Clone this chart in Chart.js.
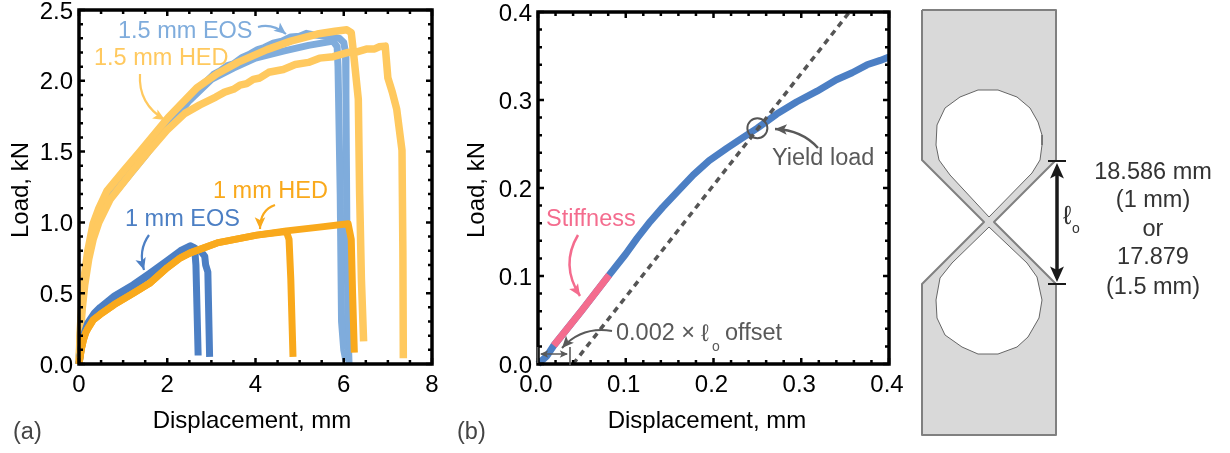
<!DOCTYPE html>
<html>
<head>
<meta charset="utf-8">
<script src="https://cdn.jsdelivr.net/npm/chart.js@4/dist/chart.umd.min.js"></script>
<style>
  html, body { margin: 0; background: #fff; }
  canvas { position: absolute; top: 0; }
</style>
</head>
<body>
<canvas id="chartA" width="445" height="453" style="left:0"></canvas>
<canvas id="chartB" width="465" height="453" style="left:445px"></canvas>
<canvas id="chartC" width="320" height="453" style="left:910px"></canvas>
<script>
// panel (a) load-displacement curves, [displacement mm, load kN]
const eos15a = [[0,0],[0.04,0.3],[0.1,0.55],[0.2,0.78],[0.3,0.92],[0.45,1.05],[0.63,1.17],[1,1.32],[1.5,1.5],[2,1.7],[2.5,1.89],[2.7,1.95],[2.9,2.0],[3.05,2.045],[3.2,2.07],[3.35,2.105],[3.5,2.12],[3.7,2.165],[3.88,2.19],[4.05,2.22],[4.2,2.235],[4.4,2.265],[4.6,2.28],[4.8,2.31],[5,2.315],[5.15,2.335],[5.3,2.325],[5.76,2.31],[5.9,2.3],[6.0,2.27],[6.04,2.2],[6.05,1.9],[6.07,1.0],[6.1,0.2],[6.12,0]];
const eos15b = [[0,0],[0.04,0.28],[0.1,0.52],[0.2,0.75],[0.3,0.89],[0.45,1.02],[0.63,1.14],[1,1.28],[1.5,1.47],[2,1.67],[2.5,1.86],[3,2.01],[3.5,2.09],[4,2.16],[4.63,2.21],[5.2,2.25],[5.76,2.28],[5.85,2.24],[5.87,2.1],[5.92,1.2],[5.95,0.3],[6.0,0.1],[6.05,0.02]];
const hed15a = [[0,0],[0.03,0.25],[0.07,0.45],[0.12,0.62],[0.2,0.8],[0.32,0.99],[0.45,1.1],[0.63,1.22],[1,1.36],[1.38,1.5],[2.02,1.74],[2.67,1.95],[3.13,2.05],[3.6,2.13],[4.26,2.22],[4.8,2.28],[5.4,2.33],[5.8,2.35],[6.07,2.36],[6.17,2.34],[6.22,2.2],[6.33,1.87],[6.36,1.2],[6.4,0.6],[6.45,0.16]];
const hed15b = [[0,0],[0.03,0.2],[0.07,0.38],[0.13,0.56],[0.22,0.74],[0.32,0.88],[0.45,1.0],[0.7,1.16],[1.23,1.37],[1.6,1.51],[1.99,1.65],[2.4,1.77],[2.74,1.83],[3.1,1.885],[3.3,1.92],[3.5,1.94],[3.65,1.97],[3.8,1.98],[3.95,2.01],[4.1,2.02],[4.3,2.06],[4.63,2.08],[4.9,2.115],[5.2,2.13],[5.45,2.16],[5.76,2.17],[6.1,2.2],[6.3,2.205],[6.53,2.225],[6.7,2.225],[6.8,2.24],[6.94,2.245],[7,2.02],[7.1,1.92],[7.2,1.8],[7.32,1.51],[7.34,0.8],[7.35,0.04]];
const eos1a = [[0,0],[0.05,0.12],[0.1,0.2],[0.2,0.29],[0.35,0.36],[0.48,0.4],[0.8,0.48],[1.23,0.56],[1.6,0.64],[2,0.73],[2.3,0.8],[2.52,0.835],[2.62,0.82],[2.65,0.7],[2.7,0.06]];
const eos1b = [[0,0],[0.05,0.11],[0.1,0.19],[0.2,0.28],[0.35,0.35],[0.48,0.39],[0.8,0.47],[1.23,0.55],[1.6,0.63],[2,0.72],[2.3,0.79],[2.52,0.83],[2.75,0.8],[2.85,0.76],[2.87,0.7],[2.92,0.65],[2.96,0.05]];
const hed1a = [[0,0],[0.05,0.1],[0.1,0.17],[0.15,0.22],[0.2,0.25],[0.32,0.31],[0.48,0.35],[0.8,0.42],[1.23,0.5],[1.6,0.57],[2,0.68],[2.3,0.75],[2.52,0.785],[3.13,0.855],[4.03,0.91],[4.7,0.935],[4.76,0.88],[4.8,0.6],[4.85,0.05]];
const hed1b = [[0,0],[0.05,0.1],[0.1,0.17],[0.15,0.22],[0.2,0.25],[0.32,0.31],[0.48,0.35],[0.8,0.42],[1.23,0.5],[1.6,0.57],[2,0.68],[2.3,0.75],[2.52,0.785],[3.13,0.855],[4.03,0.91],[4.7,0.94],[5.4,0.965],[6.1,0.99],[6.17,0.88],[6.2,0.5],[6.24,0.08]];

// panel (b)
const yieldCurve = [[0,0],[0.01,0.009],[0.018,0.021],[0.05,0.061],[0.081,0.101],[0.1,0.125],[0.113,0.143],[0.128,0.162],[0.142,0.178],[0.16,0.197],[0.177,0.215],[0.195,0.231],[0.215,0.245],[0.233,0.257],[0.25,0.268],[0.272,0.284],[0.295,0.298],[0.318,0.31],[0.34,0.323],[0.358,0.331],[0.375,0.34],[0.39,0.345],[0.4,0.349]];
const stiffnessPart = [[0.018,0.021],[0.05,0.061],[0.081,0.101]];
const offsetLine = [[0.04,0],[0.355,0.4]];
const yieldPoint = [[0.25,0.268]];

// specimen drawing outline, in drawing units
const plateOutline = [[12,10],[146,10],[146,160],[84,222],[146,284],[146,435],[12,435],[12,284],[74,222],[12,160],[12,10]];
const holeTop = [[68,90],[88,90],[107,97],[120,108],[128,122],[132,135],[132,145],[130,160],[122,173],[79,217],[40,175],[29,160],[26,145],[27,125],[35,108],[50,97],[68,90]];
const holeBottom = [[79,227],[117,263],[127,277],[132,300],[129,318],[118,337],[107,347],[88,354],[68,354],[52,347],[35,335],[27,318],[26,300],[30,278],[42,263],[79,227]];

const xTicksA = [0, 2, 4, 6, 8];
const yTicksA = [0, 0.5, 1, 1.5, 2, 2.5];
const xTicksB = [0, 0.1, 0.2, 0.3, 0.4];
const yTicksB = [0, 0.1, 0.2, 0.3, 0.4];

const FONT = "Liberation Sans, Arial, sans-serif";
const GREY = "#595959";

function toPts(arr) {
  return arr.map(p => ({ x: p[0], y: p[1] }));
}

function curve(arr, color, width) {
  return {
    data: toPts(arr), borderColor: color, borderWidth: width, pointRadius: 0,
    showLine: true, tension: 0, fill: false, clip: false,
    borderJoinStyle: "round", borderCapStyle: "butt"
  };
}

// ticks point inward on all four sides, so they are drawn here
function frameTicks(chart, xMinor, yMinor) {
  const { ctx, chartArea: a, scales: { x, y } } = chart;
  ctx.save();
  ctx.strokeStyle = "#000";
  ctx.lineWidth = 3.5;
  ctx.strokeRect(a.left, a.top, a.right - a.left, a.bottom - a.top);
  ctx.lineWidth = 2.5;
  const xMajor = x.ticks.map(t => t.value);
  const yMajor = y.ticks.map(t => t.value);
  for (const v of xMinor) {
    const len = xMajor.some(m => Math.abs(m - v) < 1e-6) ? 6 : 4;
    const p = x.getPixelForValue(v);
    ctx.beginPath();
    ctx.moveTo(p, a.top); ctx.lineTo(p, a.top + len);
    ctx.moveTo(p, a.bottom); ctx.lineTo(p, a.bottom - len);
    ctx.stroke();
  }
  for (const v of yMinor) {
    const len = yMajor.some(m => Math.abs(m - v) < 1e-6) ? 6 : 4;
    const p = y.getPixelForValue(v);
    ctx.beginPath();
    ctx.moveTo(a.left, p); ctx.lineTo(a.left + len, p);
    ctx.moveTo(a.right, p); ctx.lineTo(a.right - len, p);
    ctx.stroke();
  }
  ctx.restore();
}

function stepList(max, step) {
  const out = [];
  const n = Math.round(max / step);
  for (let i = 0; i <= n; i++) out.push(+(i * step).toFixed(4));
  return out;
}

function arrowHead(ctx, fromX, fromY, toX, toY, size) {
  const ang = Math.atan2(toY - fromY, toX - fromX);
  ctx.beginPath();
  ctx.moveTo(toX, toY);
  ctx.lineTo(toX - size * Math.cos(ang - 0.42), toY - size * Math.sin(ang - 0.42));
  ctx.lineTo(toX - size * 0.7 * Math.cos(ang), toY - size * 0.7 * Math.sin(ang));
  ctx.lineTo(toX - size * Math.cos(ang + 0.42), toY - size * Math.sin(ang + 0.42));
  ctx.closePath();
  ctx.fill();
}

function curvedArrow(ctx, a) {
  ctx.save();
  ctx.strokeStyle = a.color; ctx.fillStyle = a.color;
  ctx.lineWidth = a.width || 2.2;
  ctx.beginPath();
  ctx.moveTo(a.from[0], a.from[1]);
  ctx.quadraticCurveTo(a.ctrl[0], a.ctrl[1], a.to[0], a.to[1]);
  ctx.stroke();
  arrowHead(ctx, a.ctrl[0], a.ctrl[1], a.to[0], a.to[1], a.size || 13);
  ctx.restore();
}

function label(ctx, s, x, y, color, size, align) {
  ctx.fillStyle = color;
  ctx.font = (size || 23.5) + "px " + FONT;
  ctx.textAlign = align || "left";
  ctx.textBaseline = "middle";
  ctx.fillText(s, x, y);
}

// axis titles sit a little off the plot centre in the figure
function axisTitles(ctx, xText, xPos, yText, yPos) {
  label(ctx, xText, xPos, 421, "#000", 24, "center");
  ctx.save();
  ctx.translate(yPos, 190);
  ctx.rotate(-Math.PI / 2);
  label(ctx, yText, 0, 0, "#000", 24, "center");
  ctx.restore();
}

function axisOptions(min, max, ticks, isX, fit, offset) {
  return {
    type: "linear", min, max,
    afterBuildTicks: s => { s.ticks = ticks.map(v => ({ value: v })); },
    afterFit: s => {
      if (isX) s.height = fit; else s.width = fit;
      s.paddingTop = s.paddingBottom = s.paddingLeft = s.paddingRight = 0;
    },
    grid: { display: false, drawTicks: false },
    border: { display: false },
    ticks: {
      color: "#000", padding: isX ? 7 : 6, autoSkip: false, maxRotation: 0,
      labelOffset: offset,
      font: { family: FONT, size: 24 },
      callback: v => isX && max > 1 ? String(v) : v.toFixed(1)
    }
  };
}

const baseOptions = {
  responsive: false, animation: false, events: [],
  plugins: { legend: { display: false }, tooltip: { enabled: false } }
};

const colEos15 = "#7FACDC", colHed15 = "#FFC95F", colEos1 = "#4C7FC4", colHed1 = "#F9A91C";

// first dataset is painted last, so the top curves come first
new Chart(document.getElementById("chartA"), {
  type: "scatter",
  data: { datasets: [
    curve(hed1b, colHed1, 7), curve(hed1a, colHed1, 7),
    curve(eos1b, colEos1, 7), curve(eos1a, colEos1, 7),
    curve(hed15b, colHed15, 7.5), curve(hed15a, colHed15, 7.5),
    curve(eos15b, colEos15, 7), curve(eos15a, colEos15, 7)
  ] },
  options: { ...baseOptions,
    layout: { autoPadding: false, padding: { left: 0, top: 10, right: 13, bottom: 0 } },
    scales: {
      x: axisOptions(0, 8, xTicksA, true, 89, 0),
      y: axisOptions(0, 2.5, yTicksA, false, 79, 2)
    }
  },
  plugins: [{
    id: "panelA",
    afterDatasetsDraw(chart) {
      frameTicks(chart, stepList(8, 0.5), stepList(2.5, 0.1));
      const ctx = chart.ctx;
      axisTitles(ctx, "Displacement, mm", 252, "Load, kN", 21);
      label(ctx, "1.5 mm EOS", 118, 32, colEos15);
      label(ctx, "1.5 mm HED", 94, 59, colHed15);
      label(ctx, "1 mm HED", 213, 192, colHed1);
      label(ctx, "1 mm EOS", 125, 220, colEos1);
      curvedArrow(ctx, { from: [258, 27], ctrl: [272, 23], to: [286, 34], color: colEos15 });
      curvedArrow(ctx, { from: [140, 74], ctrl: [138, 104], to: [165, 120], color: colHed15 });
      curvedArrow(ctx, { from: [275, 205], ctrl: [260, 210], to: [260, 229], color: colHed1 });
      curvedArrow(ctx, { from: [149, 235], ctrl: [138, 250], to: [144, 270], color: colEos1 });
      label(ctx, "(a)", 13, 433, "#444", 23.5);
    }
  }]
});

new Chart(document.getElementById("chartB"), {
  type: "scatter",
  data: { datasets: [
    { data: toPts(yieldPoint), pointRadius: 10, pointBackgroundColor: "transparent",
      pointBorderColor: "#555", pointBorderWidth: 2, showLine: false },
    { ...curve(offsetLine, "#555", 3.5), borderDash: [6, 5], clip: true },
    curve(stiffnessPart, "#F46C8E", 7),
    curve(yieldCurve, colEos1, 7)
  ] },
  options: { ...baseOptions,
    layout: { autoPadding: false, padding: { left: 0, top: 12, right: 21, bottom: 0 } },
    scales: {
      x: axisOptions(0, 0.4, xTicksB, true, 89, -2),
      y: axisOptions(0, 0.4, yTicksB, false, 93, 2)
    }
  },
  plugins: [{
    id: "panelB",
    afterDatasetsDraw(chart) {
      frameTicks(chart, stepList(0.4, 0.02), stepList(0.4, 0.02));
      const ctx = chart.ctx;
      ctx.save();
      ctx.translate(-445, 0);
      axisTitles(ctx, "Displacement, mm", 707, "Load, kN", 477);
      label(ctx, "Yield load", 772, 159, GREY);
      label(ctx, "Stiffness", 546, 220, "#F46C8E");
      label(ctx, "0.002 ×", 616, 334, GREY);
      label(ctx, "ℓ", 701, 334, GREY, 24);
      label(ctx, "o", 712, 347, GREY, 14);
      label(ctx, "offset", 725, 334, GREY);
      curvedArrow(ctx, { from: [818, 148], ctrl: [802, 130], to: [775, 129], color: GREY, width: 2.5 });
      curvedArrow(ctx, { from: [578, 235], ctrl: [560, 265], to: [580, 296], color: "#F46C8E", width: 2.5 });
      curvedArrow(ctx, { from: [612, 331], ctrl: [582, 326], to: [562, 348], color: GREY, width: 2 });
      ctx.strokeStyle = GREY; ctx.fillStyle = GREY; ctx.lineWidth = 1.6;
      ctx.beginPath();
      ctx.moveTo(541, 354); ctx.lineTo(567, 354);
      ctx.moveTo(537.5, 347); ctx.lineTo(537.5, 363);
      ctx.moveTo(570, 347); ctx.lineTo(570, 365);
      ctx.stroke();
      arrowHead(ctx, 550, 354, 540, 354, 9);
      arrowHead(ctx, 558, 354, 568, 354, 9);
      ctx.restore();
      label(ctx, "(b)", 457 - 445, 433, "#444", 23.5);
    }
  }]
});

function shape(arr, fillCol, lineCol, width) {
  return {
    data: toPts(arr), borderColor: lineCol, borderWidth: width, backgroundColor: fillCol,
    fill: "shape", pointRadius: 0, showLine: true, tension: 0, borderJoinStyle: "round"
  };
}

new Chart(document.getElementById("chartC"), {
  type: "scatter",
  data: { datasets: [
    shape(holeBottom, "#fff", "#666", 1),
    shape(holeTop, "#fff", "#666", 1),
    shape(plateOutline, "#D9D9D9", "#808080", 2)
  ] },
  options: { ...baseOptions,
    layout: { autoPadding: false, padding: 0 },
    scales: {
      x: { type: "linear", min: 0, max: 320, display: false },
      y: { type: "linear", min: 0, max: 453, reverse: true, display: false }
    }
  },
  plugins: [{
    id: "panelC",
    afterDatasetsDraw(chart) {
      const ctx = chart.ctx;
      ctx.save();
      ctx.translate(-910, 0);
      ctx.strokeStyle = "#1a1a1a"; ctx.fillStyle = "#1a1a1a"; ctx.lineWidth = 2;
      ctx.beginPath();
      ctx.moveTo(1048, 161); ctx.lineTo(1066, 161);
      ctx.moveTo(1048, 284); ctx.lineTo(1066, 284);
      ctx.stroke();
      ctx.lineWidth = 3.5;
      ctx.beginPath();
      ctx.moveTo(1057, 172); ctx.lineTo(1057, 273);
      ctx.stroke();
      arrowHead(ctx, 1057, 200, 1057, 163, 17);
      arrowHead(ctx, 1057, 240, 1057, 282, 17);
      label(ctx, "ℓ", 1063, 217, "#333", 26);
      label(ctx, "o", 1072, 229, "#333", 14);
      const tc = "#333";
      label(ctx, "18.586 mm", 1153, 173, tc, 23.5, "center");
      label(ctx, "(1 mm)", 1153, 201, tc, 23.5, "center");
      label(ctx, "or", 1153, 230, tc, 23.5, "center");
      label(ctx, "17.879", 1153, 258, tc, 23.5, "center");
      label(ctx, "(1.5 mm)", 1153, 288, tc, 23.5, "center");
      ctx.restore();
    }
  }]
});
</script>
</body>
</html>
